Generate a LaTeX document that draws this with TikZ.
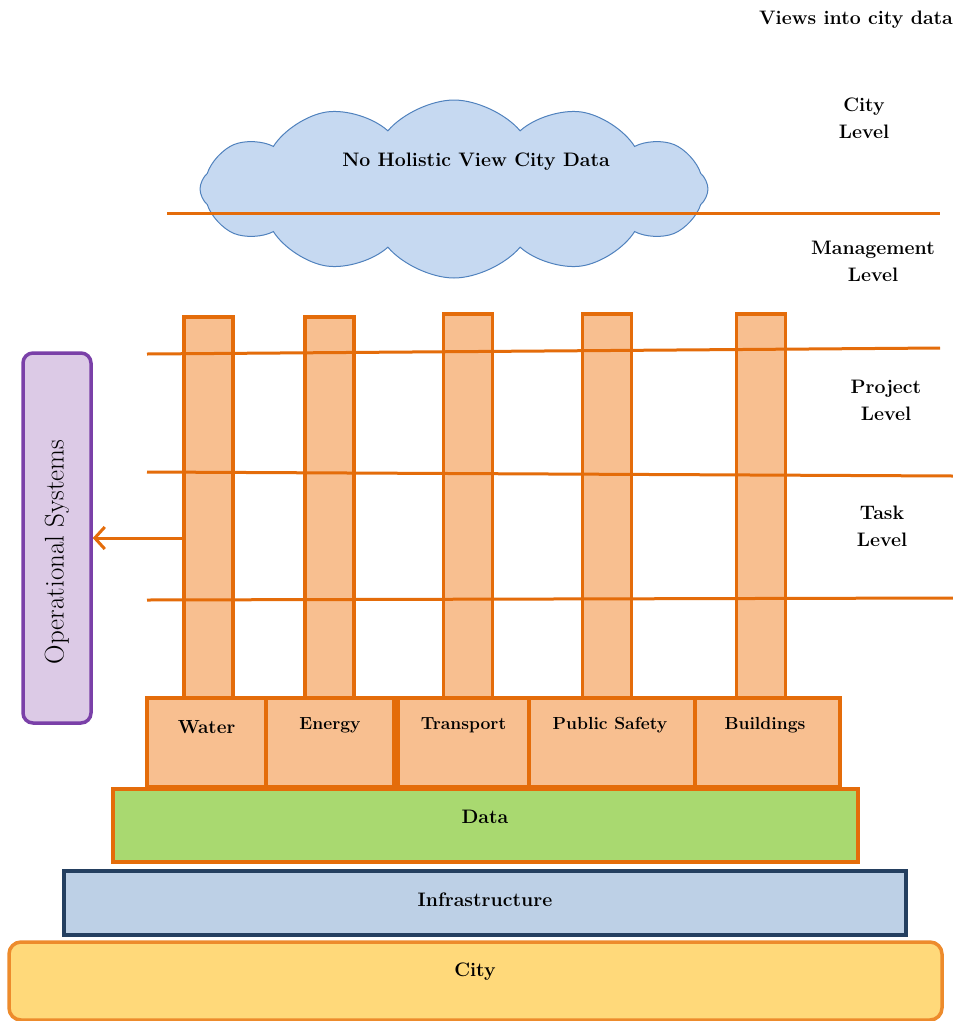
\documentclass[tikz,border=0pt]{standalone}
\usetikzlibrary{shapes.symbols,positioning,arrows.meta}
\definecolor{lineorange}{HTML}{E46C0A}
\definecolor{pillarfill}{HTML}{F8BF90}
\definecolor{datagreen}{HTML}{A9D970}
\definecolor{infrablue}{HTML}{BDD0E6}
\definecolor{infraborder}{HTML}{243F60}
\definecolor{cityyellow}{HTML}{FFD97A}
\definecolor{cityborder}{HTML}{ED8B2C}
\definecolor{cloudfill}{HTML}{C6D9F1}
\definecolor{cloudborder}{HTML}{4F81BD}
\definecolor{opsfill}{HTML}{DCCAE6}
\definecolor{opsborder}{HTML}{7A40A8}
\begin{document}
\begin{tikzpicture}[x=1pt,y=-1pt]
        \tikzstyle{pillar} = [rectangle, draw=lineorange, fill=pillarfill, line width=3.5, minimum width=49, inner sep=0]
        \tikzstyle{base} = [rectangle, draw=lineorange, fill=pillarfill, line width=3.5, minimum height=89, inner sep=0]
        \tikzstyle{layer} = [rectangle, line width=3.5, inner sep=0]
        \tikzstyle{lbl} = [text=black, font=\fontsize{19.5}{27}\selectfont\bfseries, align=center, inner sep=0]
        \tikzstyle{baselbl} = [lbl, font=\fontsize{17.5}{27}\selectfont\bfseries]
        \tikzstyle{level} = [draw=lineorange, line width=3]
        \useasboundingbox (0,0) rectangle (953,1021);
        % cloud on top
        \node[cloud, cloud puffs=12, cloud puff arc=100, aspect=2.7, draw=cloudborder, fill=cloudfill, line width=1, minimum width=508, minimum height=178, inner sep=0] (cloud) at (454,189) {};
        \node[lbl] (cloudtext) at (476,162) {No Holistic View City Data};
        % pillars
        \node[pillar,minimum height=381] (water) at (208.5,507.5) {};
        \node[pillar,minimum height=381] (energy) at (329.5,507.5) {};
        \node[pillar,minimum height=384] (transport) at (468,506) {};
        \node[pillar,minimum height=384] (safety) at (607,506) {};
        \node[pillar,minimum height=384] (buildings) at (761,506) {};
        % bases
        \node[base,minimum width=119] (waterbase) at (206.5,742.5) {};
        \node[base,minimum width=128] (energybase) at (330,742.5) {};
        \node[base,minimum width=131] (transportbase) at (463.5,742.5) {};
        \node[base,minimum width=166] (safetybase) at (612,742.5) {};
        \node[base,minimum width=145] (buildingsbase) at (767.5,742.5) {};
        \node[baselbl,font=\fontsize{19}{27}\selectfont\bfseries] (waterlbl) at (206.5,727) {Water};
        \node[baselbl] (energylbl) at (330,725) {Energy};
        \node[baselbl] (transportlbl) at (463.5,725) {Transport};
        \node[baselbl] (safetylbl) at (610,725) {Public Safety};
        \node[baselbl] (buildingslbl) at (765,725) {Buildings};
        % layers
        \node[layer,draw=lineorange,fill=datagreen,minimum width=745,minimum height=73] (data) at (485.5,825.5) {};
        \node[layer,draw=infraborder,fill=infrablue,minimum width=842,minimum height=64] (infra) at (485,903) {};
        \node[layer,draw=cityborder,fill=cityyellow,rounded corners=12,minimum width=933,minimum height=78] (city) at (475.5,981) {};
        \node[lbl] (datalbl) at (485,817) {Data};
        \node[lbl] (infralbl) at (485,900) {Infrastructure};
        \node[lbl] (citylbl) at (475,972) {City};
        % operational systems
        \node[rectangle,rounded corners=10,draw=opsborder,fill=opsfill,line width=3.5,minimum width=68,minimum height=370] (ops) at (57,538) {};
        \node[lbl,font=\fontsize{27}{27}\selectfont,rotate=90] (opslbl) at (57,552) {Operational Systems};
        % level lines
        \coordinate (c1) at (167,213);
        \coordinate (c2) at (940,213);
        \coordinate (p1) at (147,354);
        \coordinate (p2) at (940,348);
        \coordinate (t1) at (147,472);
        \coordinate (t2) at (953,476);
        \coordinate (b1) at (147,600);
        \coordinate (b2) at (953,598);
        \draw[level] (c1) -- (c2);
        \draw[level] (p1) -- (p2);
        \draw[level] (t1) -- (t2);
        \draw[level] (b1) -- (b2);
        \draw[level,-{Straight Barb[length=10,width=22]}] (water.west |- ops.east) -- (ops.east);
        % level names
        \node[lbl] (views) at (856,20) {Views into city data};
        \node[lbl] (citylevel) at (864,118) {City\\Level};
        \node[lbl] (mgmtlevel) at (873,261) {Management\\Level};
        \node[lbl] (projlevel) at (886,400) {Project\\Level};
        \node[lbl] (tasklevel) at (882,526) {Task\\Level};
\end{tikzpicture}
\end{document}
